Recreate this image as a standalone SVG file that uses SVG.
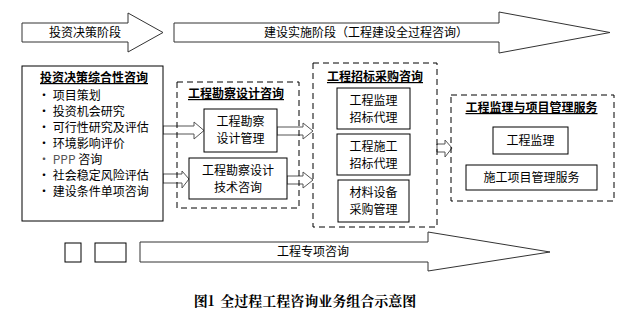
<svg xmlns="http://www.w3.org/2000/svg" width="627" height="327" viewBox="0 0 627 327">
<style>
text{font-family:"Noto Sans CJK SC","Liberation Sans",sans-serif;font-size:12px;fill:#000}
.c{text-anchor:middle}
.t{font-weight:bold;text-decoration:underline}
.box{fill:#fff;stroke:#000;stroke-width:1}
.dash{fill:none;stroke:#000;stroke-width:1;stroke-dasharray:6,4}
.big{fill:#fff;stroke:#333;stroke-width:1}
.blk{fill:#fff;stroke:#555;stroke-width:1}
</style>
<rect width="627" height="327" fill="#fff"/>
<g id="connectors">
<path class="big" d="M22,23 H128 V13 L163,32.5 L128,52 V42 H22 Z"/>
<path class="big" d="M174,23 H499 V12 L610,32.5 L499,53 V42 H174 Z"/>
<path class="big" d="M140,242 H428 V232 L550,252 L428,271 V262 H140 Z"/>
<path class="blk" d="M163,126 H194 V122 L204,130.5 L194,139 V134 H163 Z"/>
<path class="blk" d="M163,174 H182 V171 L189,179 L182,188 V183 H163 Z"/>
<path class="blk" d="M277,127 H303 V123 L313,131 L303,139 V135 H277 Z"/>
<path class="blk" d="M287,176 H303 V172 L313,180 L303,188 V184 H287 Z"/>
<path class="blk" d="M437,144 H445 V140 L452,148 L445,157 V152 H437 Z"/>
</g>
<text class="c" x="85" y="37">投资决策阶段</text>
<text x="264" y="37">建设实施阶段（工程建设全过程咨询）</text>
<text class="c" x="313" y="256">工程专项咨询</text>
<g id="n1">
<rect class="box" x="22" y="66" width="141" height="155"/>
<text class="t" x="40" y="82">投资决策综合性咨询</text>
<text x="38" y="100">· 项目策划</text>
<text x="38" y="116">· 投资机会研究</text>
<text x="38" y="132">· 可行性研究及评估</text>
<text x="38" y="148">· 环境影响评价</text>
<text x="38" y="164"><tspan fill="#555">· PPP</tspan> 咨询</text>
<text x="38" y="180">· 社会稳定风险评估</text>
<text x="38" y="196">· 建设条件单项咨询</text>
</g>
<g id="n2">
<rect class="dash" x="177" y="82" width="122" height="126"/>
<text class="t c" x="236" y="98">工程勘察设计咨询</text>
</g>
<g id="n2a">
<rect class="box" x="204" y="109" width="73" height="43"/>
<text class="c" x="240.5" y="126">工程勘察</text>
<text class="c" x="240.5" y="143">设计管理</text>
</g>
<g id="n2b">
<rect class="box" x="189" y="158" width="98" height="41"/>
<text class="c" x="238" y="175">工程勘察设计</text>
<text class="c" x="238" y="192">技术咨询</text>
</g>
<g id="n3">
<rect class="dash" x="313" y="63" width="124" height="164"/>
<text class="t c" x="375" y="81">工程招标采购咨询</text>
</g>
<g id="n3a">
<rect class="box" x="337" y="88" width="73" height="41"/>
<text class="c" x="373.5" y="105">工程监理</text>
<text class="c" x="373.5" y="122">招标代理</text>
</g>
<g id="n3b">
<rect class="box" x="337" y="134" width="73" height="41"/>
<text class="c" x="373.5" y="151">工程施工</text>
<text class="c" x="373.5" y="168">招标代理</text>
</g>
<g id="n3c">
<rect class="box" x="338" y="180" width="71" height="42"/>
<text class="c" x="373.5" y="197">材料设备</text>
<text class="c" x="373.5" y="214">采购管理</text>
</g>
<g id="n4">
<rect class="dash" x="451" y="95" width="163" height="106"/>
<text class="t c" x="531.5" y="112">工程监理与项目管理服务</text>
</g>
<g id="n4a">
<rect class="box" x="493" y="127" width="75" height="27"/>
<text class="c" x="530.5" y="145">工程监理</text>
</g>
<g id="n4b">
<rect class="box" x="466" y="165" width="131" height="25"/>
<text class="c" x="531.5" y="182">施工项目管理服务</text>
</g>
<g id="s1"><rect class="box" x="65" y="243" width="16" height="19"/></g>
<g id="s2"><rect class="box" x="95" y="243" width="31" height="19"/></g>
<text class="c" x="305" y="306" style="font-family:'Noto Serif CJK SC','Noto Sans CJK SC',serif;font-size:14px;font-weight:bold">图1<tspan dx="6">全过程工程咨询业务组合示意图</tspan></text>
</svg>
